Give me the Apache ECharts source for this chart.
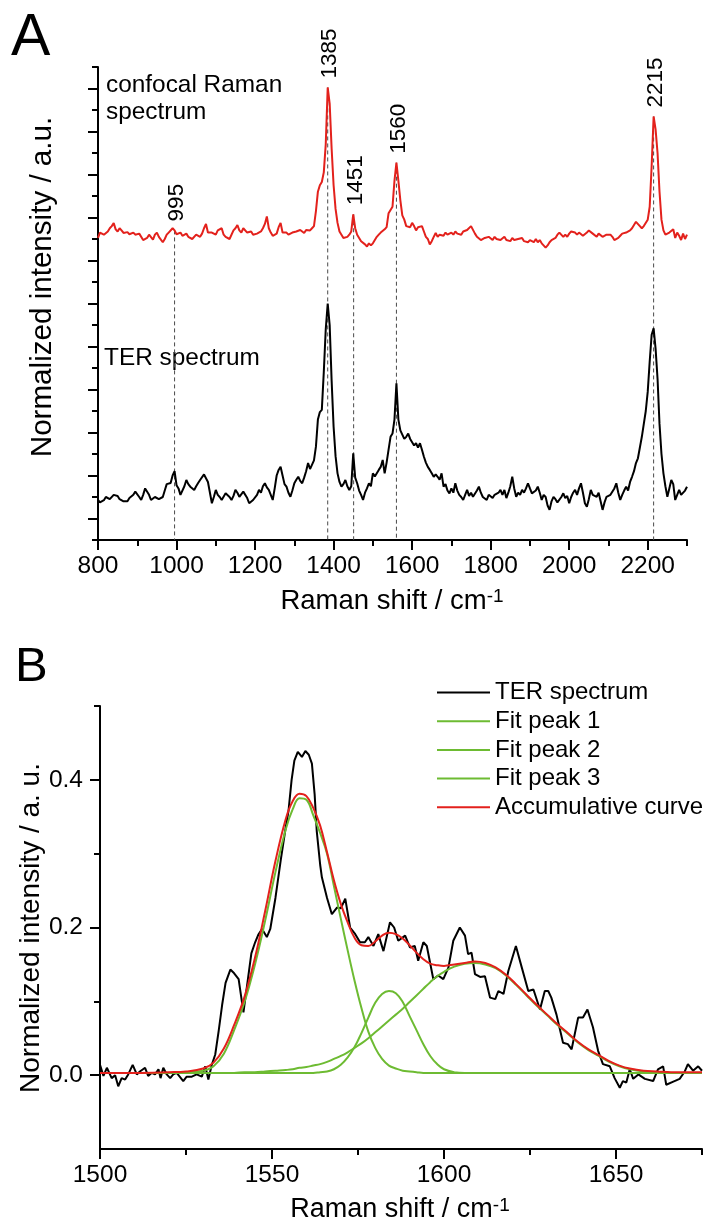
<!DOCTYPE html>
<html><head><meta charset="utf-8">
<script src="https://cdn.jsdelivr.net/npm/echarts@6.0.0/dist/echarts.min.js"></script>
<style>html,body{margin:0;padding:0;background:#fff}#c{width:704px;height:1225px}</style>
</head><body><div id="c"></div>
<script>
// ---------------- Panel A data ----------------
const ramanStart = 800, ramanStep = 5;   // Raman shift grid (cm-1)
const confocalRaman = [
// 800
14.05,14.30,14.37,14.20,14.25,14.35,14.50,14.60,14.74,14.45,14.35,14.50,14.40,14.28,14.35,14.32,14.22,14.19,14.30,14.20,
// 900
14.14,14.25,14.30,13.95,14.00,14.05,14.20,14.15,13.97,14.20,14.30,14.10,14.05,13.85,14.00,14.20,14.30,14.35,14.50,14.40,
// 1000
14.22,14.25,14.30,14.15,14.20,14.25,14.10,14.15,14.00,14.05,14.20,14.15,14.10,14.25,14.50,14.70,14.30,14.35,14.30,14.25,
// 1100
14.20,14.40,14.45,14.50,14.20,14.10,14.05,14.00,14.05,14.40,14.50,14.65,14.40,14.30,14.50,14.45,14.30,14.25,14.35,14.20,
// 1200
14.15,14.25,14.20,14.35,14.50,14.70,15.05,14.50,14.30,14.15,14.20,14.25,14.55,14.75,14.30,14.35,14.30,14.20,14.15,14.30,
// 1300
14.25,14.35,14.30,14.42,14.35,14.28,14.42,14.35,14.40,14.50,14.60,15.30,16.20,16.50,16.65,17.10,18.40,21.05,20.30,18.20,
// 1400
16.50,15.40,14.75,14.35,14.20,14.05,14.00,14.10,14.20,14.35,15.15,14.50,14.20,14.05,13.90,13.85,13.75,13.65,13.80,13.70,
// 1500
13.80,13.95,14.10,14.20,14.30,14.35,14.45,14.55,15.20,15.35,15.50,16.70,17.55,16.70,15.80,15.10,14.90,14.60,14.65,14.55,
// 1600
14.75,14.60,14.40,14.55,14.50,14.60,14.35,14.10,14.00,13.75,13.90,14.10,14.28,14.10,14.20,14.25,14.15,14.30,14.20,14.25,
// 1700
14.30,14.20,14.35,14.25,14.30,14.20,14.35,14.40,14.42,14.50,14.60,14.55,14.25,14.10,14.05,13.95,13.95,14.05,14.00,14.10,
// 1800
14.05,13.95,14.10,14.00,14.05,13.95,14.00,14.10,13.95,14.00,13.90,14.05,13.95,13.90,14.00,13.95,14.05,13.90,13.95,13.85,
// 1900
13.95,13.90,13.85,14.00,13.85,13.95,13.80,13.85,13.60,13.70,13.85,13.95,13.90,14.05,14.20,14.30,14.25,14.10,14.20,14.10,
// 2000
14.25,14.35,14.40,14.30,14.20,14.30,14.25,14.15,14.20,14.30,14.40,14.45,14.25,14.20,14.10,14.25,14.30,14.10,14.05,14.20,
// 2100
14.25,14.20,14.10,13.95,13.90,14.05,14.15,14.25,14.20,14.30,14.35,14.40,14.50,14.65,14.80,14.75,14.60,14.50,14.60,14.55,
// 2200
14.90,15.50,17.40,19.70,19.10,18.00,16.20,14.90,14.40,14.20,14.25,14.30,14.35,14.45,14.05,14.30,14.15,13.95,14.25,14.00,
// 2300
14.20
];
const terSpectrumA = [
// 800
1.86,1.75,1.70,1.85,2.00,1.95,1.90,1.85,2.10,2.15,2.05,1.90,1.85,1.80,1.72,1.80,1.95,2.00,2.10,2.25,
// 900
2.20,2.00,1.86,2.10,2.40,2.45,2.10,1.86,1.95,2.00,2.05,1.90,1.86,2.00,2.30,2.60,2.55,2.65,3.00,3.20,
// 1000
2.55,2.40,2.10,2.01,2.50,2.79,2.60,2.48,2.40,2.33,2.50,2.65,2.79,2.70,3.05,3.10,2.70,2.64,1.71,2.00,
// 1100
2.33,2.10,2.00,1.86,1.95,2.17,2.10,2.00,1.86,2.05,2.33,2.20,2.01,2.10,2.25,2.33,1.95,1.71,1.80,1.86,
// 1200
1.86,2.10,2.33,2.20,2.50,2.64,2.45,2.33,2.10,1.86,2.40,3.00,3.26,3.41,3.00,2.60,2.48,2.20,2.01,2.30,
// 1300
2.64,2.80,2.94,2.75,2.64,2.90,3.20,3.58,3.30,3.26,3.70,4.34,5.60,5.95,6.05,7.80,9.80,11.00,10.00,7.40,
// 1400
5.27,3.90,3.10,2.70,2.48,2.60,2.79,2.50,2.33,2.50,4.03,2.90,2.64,2.30,2.10,1.86,2.20,2.40,2.64,2.50,
// 1500
3.10,2.95,3.00,3.26,3.40,3.72,3.10,3.60,4.20,4.80,4.95,5.60,7.29,5.60,5.10,4.90,4.70,4.80,4.95,4.70,
// 1600
4.55,4.40,4.50,4.30,4.50,4.20,3.87,3.60,3.40,3.26,3.10,2.94,3.05,2.94,2.80,3.10,2.48,2.60,2.30,2.17,
// 1700
2.40,2.20,2.64,2.30,2.10,2.00,1.86,2.10,2.33,2.05,2.20,2.01,2.10,2.30,2.48,2.20,2.00,1.95,1.86,2.10,
// 1800
2.17,1.95,2.10,2.01,2.20,2.33,2.10,2.33,1.95,2.20,2.50,2.94,2.40,2.01,2.20,2.10,2.33,2.20,2.40,2.64,
// 1900
2.40,2.17,2.10,2.30,2.48,2.20,1.86,2.10,2.00,1.60,1.40,1.80,2.01,1.90,1.75,1.71,2.00,2.17,1.95,2.05,
// 2000
1.71,2.00,2.20,2.33,2.10,2.40,2.64,2.20,1.71,1.55,1.90,2.33,2.10,2.05,2.01,2.20,1.80,1.40,1.75,2.01,
// 2100
2.01,2.10,2.17,2.40,2.64,2.20,1.86,2.10,2.30,2.48,2.30,2.70,2.94,3.20,3.58,3.80,4.30,4.80,5.40,6.00,
// 2200
6.90,8.30,9.55,9.85,8.90,7.50,5.40,4.00,3.10,2.50,2.01,2.40,2.79,2.60,1.86,2.10,2.33,2.10,2.01,2.30,
// 2300
2.48
];
const peakPositions = [995, 1385, 1451, 1560, 2215];
const peakLabels = ['995', '1385', '1451', '1560', '2215'];
const xTicksA = [800, 1000, 1200, 1400, 1600, 1800, 2000, 2200];
const xMinorA = [900, 1100, 1300, 1500, 1700, 1900, 2100, 2300];
const yMajorA = [1, 3, 5, 7, 9, 11, 13, 15, 17, 19, 21];
const yMinorA = [0, 2, 4, 6, 8, 10, 12, 14, 16, 18, 20, 22];

// ---------------- Panel B data ----------------
const terBShift = [
1500,1501,1502,1503.4,1504.4,1505.3,1506.3,1507.3,1508.2,1509.5,
1510.7,1511.6,1513.1,1514,1515,1516,1517,1517.6,1518.4,1519.4,
1520.4,1521.3,1522.3,1524.2,1525.2,1526.7,1528.1,1529.6,1530.6,1531.5,
1532.5,1533.5,1534.5,1535.5,1536.5,1537.9,1539,1540.3,1541.7,1543,
1544,1545.1,1546,1547.1,1548.5,1549.5,1551,1552.5,1553.8,1554.8,
1555.7,1556.5,1557.5,1558.7,1559.7,1560.7,1561.6,1562.4,1563,1564,
1564.5,1566,1567.4,1568.9,1570,1571.3,1572.7,1574.2,1575.6,1577,
1578,1579.5,1580.9,1582.4,1584.3,1585.5,1586.7,1588.7,1590.1,1591.5,
1592.5,1594,1595,1596.9,1598.3,1599.8,1601.3,1602.7,1604.6,1606.1,
1607,1608,1609,1610.5,1611.9,1613.4,1614.9,1615.8,1617.3,1618.7,
1620.9,1622.6,1624.5,1626,1627.9,1629.3,1630.3,1631.2,1632.7,1634.6,
1636,1637.1,1639,1640.4,1641.7,1643.3,1644.8,1646.2,1648.2,1649.6,
1651.1,1652,1653,1654,1655,1656.5,1658.4,1660.8,1662.2,1663.7,
1664.6,1666.5,1668.5,1670,1670.9,1672.4,1673.9,1675
];
const terBIntensity = [
0.014,-0.001,0.010,-0.004,0.000,-0.015,-0.004,-0.006,0.001,0.014,
0.001,0.005,0.010,-0.001,0.003,0.001,0.008,-0.004,0.010,0.001,
-0.004,0.001,0.003,-0.008,-0.002,-0.002,0.001,-0.002,0.012,-0.006,
0.014,0.028,0.060,0.095,0.125,0.143,0.138,0.130,0.085,0.130,
0.165,0.180,0.190,0.198,0.187,0.198,0.240,0.290,0.330,0.358,
0.400,0.426,0.438,0.431,0.439,0.434,0.422,0.380,0.331,0.285,
0.268,0.240,0.218,0.227,0.226,0.239,0.200,0.191,0.180,0.180,
0.187,0.175,0.191,0.168,0.207,0.200,0.182,0.189,0.173,0.175,
0.155,0.180,0.175,0.130,0.135,0.130,0.146,0.182,0.200,0.189,
0.164,0.166,0.137,0.133,0.134,0.105,0.103,0.114,0.110,0.141,
0.175,0.146,0.114,0.116,0.089,0.114,0.114,0.105,0.082,0.044,
0.042,0.035,0.078,0.078,0.089,0.065,0.033,0.015,0.012,-0.004,
-0.017,-0.008,-0.010,0.008,-0.005,0.001,-0.005,-0.008,0.008,0.012,
-0.013,-0.009,-0.005,0.005,0.015,0.006,0.012,0.006
];
const fitShift = [
1500,1510,1520,1525,1530,1533,1536,1539,1542,1545,
1548,1551,1554,1556,1558,1560,1562,1564,1566,1568,
1570,1572,1574,1576,1578,1580,1582,1584,1586,1588,
1590,1592,1594,1596,1598,1600,1603,1606,1609,1612,
1615,1618,1621,1624,1627,1630,1633,1636,1639,1642,
1645,1648,1651,1654,1658,1662,1666,1670,1675
];
const fitPeak1 = [
0.003,0.003,0.003,0.004,0.006,0.012,0.029,0.061,0.099,0.149,
0.209,0.275,0.333,0.360,0.375,0.373,0.352,0.328,0.300,0.256,
0.212,0.169,0.128,0.091,0.059,0.037,0.022,0.013,0.009,0.006,
0.005,0.004,0.003,0.003,0.003,0.003,0.003,0.003,0.003,0.003,
0.003,0.003,0.003,0.003,0.003,0.003,0.003,0.003,0.003,0.003,
0.003,0.003,0.003,0.003,0.003,0.003,0.003,0.003,0.003
];
const fitPeak2 = [
0.003,0.003,0.003,0.003,0.003,0.003,0.003,0.003,0.003,0.003,
0.003,0.003,0.003,0.003,0.003,0.003,0.003,0.004,0.005,0.008,
0.014,0.024,0.038,0.057,0.078,0.098,0.110,0.114,0.111,0.099,
0.080,0.061,0.042,0.026,0.015,0.008,0.004,0.003,0.003,0.003,
0.003,0.003,0.003,0.003,0.003,0.003,0.003,0.003,0.003,0.003,
0.003,0.003,0.003,0.003,0.003,0.003,0.003,0.003,0.003
];
const fitPeak3 = [
0.003,0.003,0.003,0.003,0.003,0.003,0.003,0.003,0.004,0.004,
0.005,0.006,0.007,0.008,0.010,0.011,0.013,0.015,0.018,0.022,
0.026,0.031,0.037,0.043,0.050,0.058,0.066,0.074,0.082,0.090,
0.099,0.108,0.117,0.126,0.134,0.140,0.147,0.151,0.152,0.150,
0.145,0.135,0.122,0.108,0.094,0.081,0.068,0.056,0.044,0.034,
0.026,0.018,0.012,0.008,0.005,0.004,0.003,0.003,0.003
];
const accumulativeCurve = [
0.003,0.003,0.004,0.005,0.009,0.017,0.036,0.068,0.106,0.158,
0.222,0.290,0.347,0.371,0.381,0.378,0.362,0.338,0.302,0.264,
0.232,0.207,0.186,0.176,0.175,0.181,0.189,0.193,0.191,0.185,
0.176,0.166,0.157,0.151,0.149,0.148,0.150,0.152,0.154,0.152,
0.146,0.136,0.123,0.109,0.095,0.082,0.069,0.057,0.045,0.035,
0.027,0.019,0.013,0.009,0.006,0.005,0.004,0.004,0.004
];
const legendNames = ['TER spectrum', 'Fit peak 1', 'Fit peak 2', 'Fit peak 3', 'Accumulative curve'];
const xTicksB = [1500, 1550, 1600, 1650];
const xMinorB = [1525, 1575, 1625, 1675];
const yTicksB = [0, 0.2, 0.4];
const yMinorB = [0.1, 0.3, 0.5];

// ---------------- Build chart ----------------
const FONT = "'Liberation Sans', Arial, Helvetica, sans-serif";
const RED = '#e3211c', GREEN = '#6dbb32', BLACK = '#000';

const gridA = [];
for (let i = 0; i < confocalRaman.length; i++) gridA.push(ramanStart + i * ramanStep);
const confocalData = gridA.map((x, i) => [x, confocalRaman[i]]);
const terAData = gridA.map((x, i) => [x, terSpectrumA[i]]);
const peakData = peakPositions.map((x, i) => {
  const idx = Math.round((x - ramanStart) / ramanStep);
  return [x, confocalRaman[idx], i];
});
const terBData = terBShift.map((x, i) => [x, terBIntensity[i]]);
const pair = arr => fitShift.map((x, i) => [x, arr[i]]);

function makeAxis(o) {
  return {
    gridIndex: o.grid, type: 'value', min: o.min, max: o.max, position: o.pos,
    axisLine: { show: !!o.line, onZero: false, lineStyle: { color: '#000', width: 2 } },
    axisTick: { show: true, inside: false, customValues: o.ticks, length: o.len, lineStyle: { color: '#000', width: 2 } },
    axisLabel: o.labels ? { show: true, customValues: o.labels, fontSize: 24.5, fontFamily: FONT, color: '#000', margin: o.margin, formatter: o.fmt } : { show: false },
    splitLine: { show: false }, minorTick: { show: false }, splitArea: { show: false },
    axisPointer: { show: false }
  };
}

const chart = echarts.init(document.getElementById('c'), null, { renderer: 'canvas' });
const option = {
  animation: false,
  backgroundColor: '#fff',
  textStyle: { fontFamily: FONT },
  grid: [
    { left: 98, top: 67, width: 589, height: 473, containLabel: false, outerBoundsMode: 'none' },
    { left: 100, top: 706, width: 602, height: 443, containLabel: false, outerBoundsMode: 'none' }
  ],
  xAxis: [
    makeAxis({ grid: 0, min: 800, max: 2300, pos: 'bottom', line: true, ticks: xTicksA, len: 10, labels: xTicksA, margin: 14, fmt: v => String(v) }),
    makeAxis({ grid: 0, min: 800, max: 2300, pos: 'bottom', line: false, ticks: xMinorA, len: 6 }),
    makeAxis({ grid: 1, min: 1500, max: 1675, pos: 'bottom', line: true, ticks: xTicksB, len: 10, labels: xTicksB, margin: 14, fmt: v => String(v) }),
    makeAxis({ grid: 1, min: 1500, max: 1675, pos: 'bottom', line: false, ticks: xMinorB, len: 6 })
  ],
  yAxis: [
    makeAxis({ grid: 0, min: 0, max: 22, pos: 'left', line: true, ticks: yMajorA, len: 10 }),
    makeAxis({ grid: 0, min: 0, max: 22, pos: 'left', line: false, ticks: yMinorA, len: 6 }),
    makeAxis({ grid: 1, min: -0.1, max: 0.5, pos: 'left', line: true, ticks: yTicksB, len: 10, labels: yTicksB, margin: 17, fmt: v => Number(v).toFixed(1) }),
    makeAxis({ grid: 1, min: -0.1, max: 0.5, pos: 'left', line: false, ticks: yMinorB, len: 6 })
  ],
  legend: {
    show: true, orient: 'vertical', left: 437, top: 680.5, padding: 0,
    itemWidth: 53, itemHeight: 2, itemGap: 4.7, icon: 'rect', selectedMode: false,
    textStyle: { fontSize: 24, lineHeight: 24, color: '#000', fontFamily: FONT },
    data: legendNames
  },
  series: [
    {
      type: 'custom', name: 'peak markers', xAxisIndex: 0, yAxisIndex: 0, z: 1, clip: false, silent: true,
      data: peakData,
      renderItem: function (params, api) {
        const top = api.coord([api.value(0), api.value(1)]);
        const bottom = api.coord([api.value(0), 0]);
        const label = peakLabels[api.value(2)];
        return {
          type: 'group',
          children: [
            { type: 'line', shape: { x1: top[0], y1: top[1], x2: bottom[0], y2: bottom[1] },
              style: { stroke: '#4a4a4a', lineWidth: 1, lineDash: [4, 3] } },
            { type: 'text', x: top[0] + 2, y: top[1] - 9, rotation: Math.PI / 2,
              style: { text: label, fontSize: 22.5, fontFamily: FONT, fill: '#000', align: 'left', verticalAlign: 'middle' } }
          ]
        };
      }
    },
    { type: 'line', name: 'confocal Raman spectrum', xAxisIndex: 0, yAxisIndex: 0, data: confocalData, z: 3,
      symbol: 'none', showSymbol: false, color: RED, lineStyle: { color: RED, width: 2 }, silent: true },
    { type: 'line', name: 'TER spectrum (A)', xAxisIndex: 0, yAxisIndex: 0, data: terAData, z: 3,
      symbol: 'none', showSymbol: false, color: BLACK, lineStyle: { color: BLACK, width: 2 }, silent: true },

    { type: 'line', name: 'TER spectrum', xAxisIndex: 2, yAxisIndex: 2, data: terBData, z: 2,
      symbol: 'none', showSymbol: false, color: BLACK, itemStyle: { color: BLACK }, lineStyle: { color: BLACK, width: 2 }, silent: true },
    { type: 'line', name: 'Fit peak 1', xAxisIndex: 2, yAxisIndex: 2, data: pair(fitPeak1), z: 3, smooth: 0.4,
      symbol: 'none', showSymbol: false, color: GREEN, itemStyle: { color: GREEN }, lineStyle: { color: GREEN, width: 2 }, silent: true },
    { type: 'line', name: 'Fit peak 2', xAxisIndex: 2, yAxisIndex: 2, data: pair(fitPeak2), z: 3, smooth: 0.4,
      symbol: 'none', showSymbol: false, color: GREEN, itemStyle: { color: GREEN }, lineStyle: { color: GREEN, width: 2 }, silent: true },
    { type: 'line', name: 'Fit peak 3', xAxisIndex: 2, yAxisIndex: 2, data: pair(fitPeak3), z: 3, smooth: 0.4,
      symbol: 'none', showSymbol: false, color: GREEN, itemStyle: { color: GREEN }, lineStyle: { color: GREEN, width: 2 }, silent: true },
    { type: 'line', name: 'Accumulative curve', xAxisIndex: 2, yAxisIndex: 2, data: pair(accumulativeCurve), z: 4, smooth: 0.4,
      symbol: 'none', showSymbol: false, color: RED, itemStyle: { color: RED }, lineStyle: { color: RED, width: 2 }, silent: true }
  ],
  graphic: [
    { type: 'text', x: 11, y: 38.5, style: { text: 'A', fontSize: 59, fontFamily: FONT, fill: '#000', align: 'left', verticalAlign: 'middle' } },
    { type: 'text', x: 15, y: 667, style: { text: 'B', fontSize: 49, fontFamily: FONT, fill: '#000', align: 'left', verticalAlign: 'middle' } },
    { type: 'text', x: 106, y: 85, style: { text: 'confocal Raman', fontSize: 24.4, fontFamily: FONT, fill: '#000', align: 'left', verticalAlign: 'middle' } },
    { type: 'text', x: 106, y: 112.5, style: { text: 'spectrum', fontSize: 24.4, fontFamily: FONT, fill: '#000', align: 'left', verticalAlign: 'middle' } },
    { type: 'text', x: 104, y: 358.5, style: { text: 'TER spectrum', fontSize: 24.4, fontFamily: FONT, fill: '#000', align: 'left', verticalAlign: 'middle' } },
    { type: 'text', x: 42.5, y: 287, rotation: Math.PI / 2,
      style: { text: 'Normalized intensity / a.u.', fontSize: 29.6, fontFamily: FONT, fill: '#000', align: 'center', verticalAlign: 'middle' } },
    { type: 'text', x: 31.7, y: 928, rotation: Math.PI / 2,
      style: { text: 'Normalized intensity / a. u.', fontSize: 28, fontFamily: FONT, fill: '#000', align: 'center', verticalAlign: 'middle' } },
    { type: 'text', x: 392, y: 601,
      style: { text: '{m|Raman shift / cm}{s|-1}', align: 'center', verticalAlign: 'middle',
        rich: { m: { fontSize: 27.5, fontFamily: FONT, fill: '#000' }, s: { fontSize: 19, fontFamily: FONT, fill: '#000', verticalAlign: 'top' } } } },
    { type: 'text', x: 400, y: 1210,
      style: { text: '{m|Raman shift / cm}{s|-1}', align: 'center', verticalAlign: 'middle',
        rich: { m: { fontSize: 27, fontFamily: FONT, fill: '#000' }, s: { fontSize: 19, fontFamily: FONT, fill: '#000', verticalAlign: 'top' } } } }
  ]
};
chart.setOption(option);
</script>
</body></html>
